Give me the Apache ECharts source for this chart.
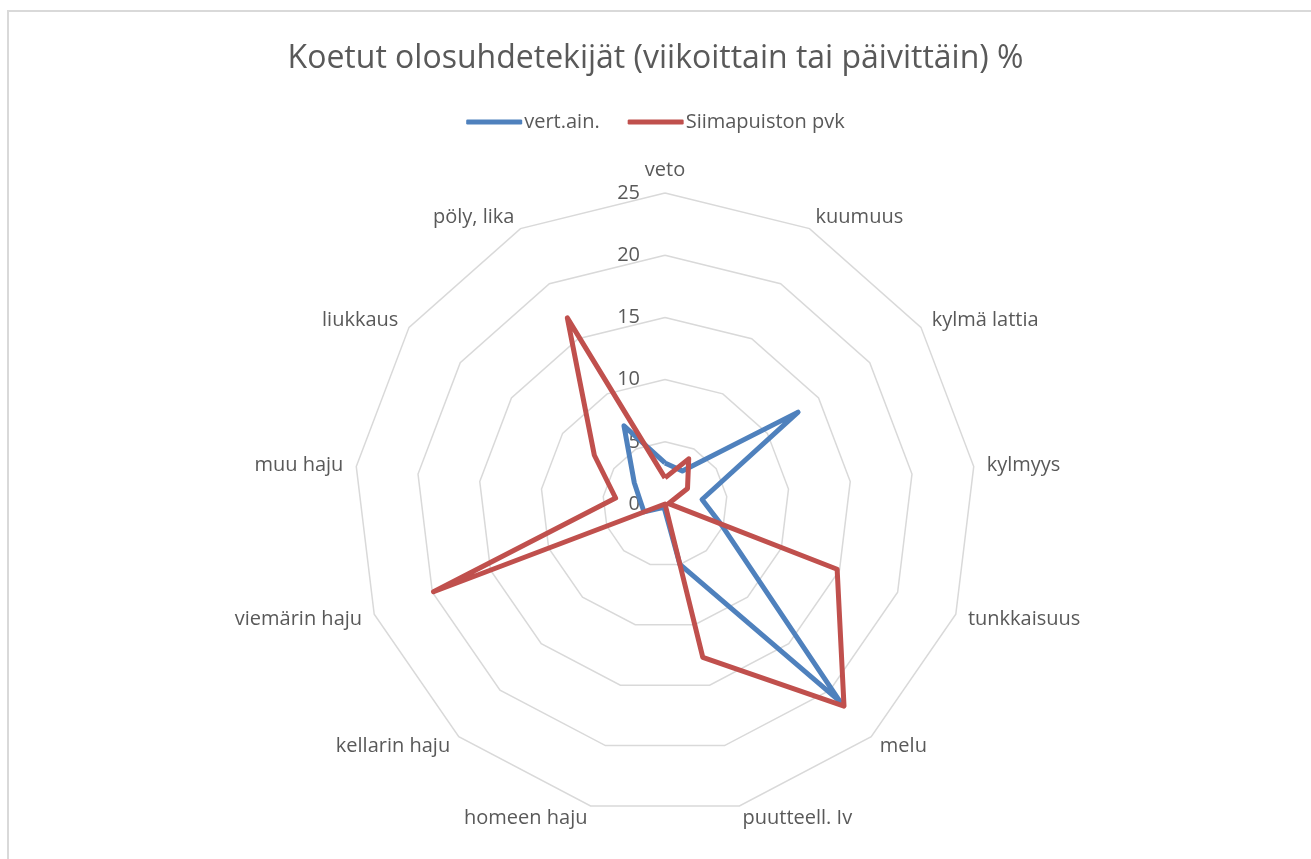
<!DOCTYPE html>
<html>
<head>
<meta charset="utf-8">
<script src="https://cdn.jsdelivr.net/npm/echarts@6/dist/echarts.min.js"></script>
<style>
html, body { margin: 0; padding: 0; background: #fff; }
#main { width: 1311px; height: 859px; }
</style>
</head>
<body>
<div id="main"></div>
<script>
// categories in clockwise order starting from the top
var categories = ['veto', 'kuumuus', 'kylmä lattia', 'kylmyys', 'tunkkaisuus', 'melu',
  'puutteell. Iv', 'homeen haju', 'kellarin haju', 'viemärin haju', 'muu haju', 'liukkaus', 'pöly, lika'];
var vertAin = [3.3, 3.0, 13.0, 3.0, 4.9, 21.2, 5.0, 0.3, 0.4, 1.8, 2.0, 3.0, 7.1];
var siimapuisto = [2.1, 4.1, 2.2, 0.3, 14.8, 21.7, 12.7, 0, 0, 19.9, 4.0, 6.9, 16.9];
var axisMin = 0, axisMax = 25, axisStep = 5;

// radar goes counterclockwise, so keep the first one and reverse the rest
function reorder(arr) {
  return [arr[0]].concat(arr.slice(1).reverse());
}

var textColor = '#595959';
var font = 'Open Sans';

var myChart = echarts.init(document.getElementById('main'));
var indicator = reorder(categories).map(function (name, i) {
  var ind = { name: name, min: axisMin, max: axisMax };
  if (i === 0) {
    // tick labels only on the top axis
    ind.axisLabel = { show: true, color: textColor, fontSize: 20, fontFamily: font, margin: 25, padding: [4, 0, 0, 0] };
  }
  return ind;
});

var option = {
  animation: false,
  backgroundColor: '#fff',
  graphic: [{
    type: 'rect',
    shape: { x: 8, y: 11, width: 1320, height: 870 },
    style: { fill: null, stroke: '#d9d9d9', lineWidth: 2 }
  }],
  title: {
    text: 'Koetut olosuhdetekijät (viikoittain tai päivittäin) %',
    left: 'center',
    top: 38,
    textStyle: { color: textColor, fontSize: 32, fontWeight: 'normal', fontFamily: font }
  },
  legend: {
    top: 107,
    left: 'center',
    icon: 'roundRect',
    itemWidth: 56,
    itemHeight: 5,
    itemGap: 28,
    textStyle: { color: textColor, fontSize: 20, fontFamily: font, padding: [0, 0, 0, -3] },
    data: ['vert.ain.', 'Siimapuiston pvk']
  },
  radar: {
    center: [665, 504],
    radius: 311,
    startAngle: 90,
    splitNumber: (axisMax - axisMin) / axisStep,
    shape: 'polygon',
    nameGap: 13,
    axisName: { color: textColor, fontSize: 20, fontFamily: font },
    axisLine: { show: false },
    axisTick: { show: false },
    axisLabel: { show: false },
    splitArea: { show: false },
    splitLine: { lineStyle: { color: '#d9d9d9', width: 1.5 } },
    indicator: indicator
  },
  series: [{
    type: 'radar',
    symbol: 'none',
    data: [
      {
        name: 'vert.ain.',
        value: reorder(vertAin),
        lineStyle: { color: '#4f81bd', width: 5, join: 'round' },
        itemStyle: { color: '#4f81bd' }
      },
      {
        name: 'Siimapuiston pvk',
        value: reorder(siimapuisto),
        lineStyle: { color: '#c0504d', width: 5, join: 'round' },
        itemStyle: { color: '#c0504d' }
      }
    ]
  }]
};
myChart.setOption(option);
</script>
</body>
</html>
